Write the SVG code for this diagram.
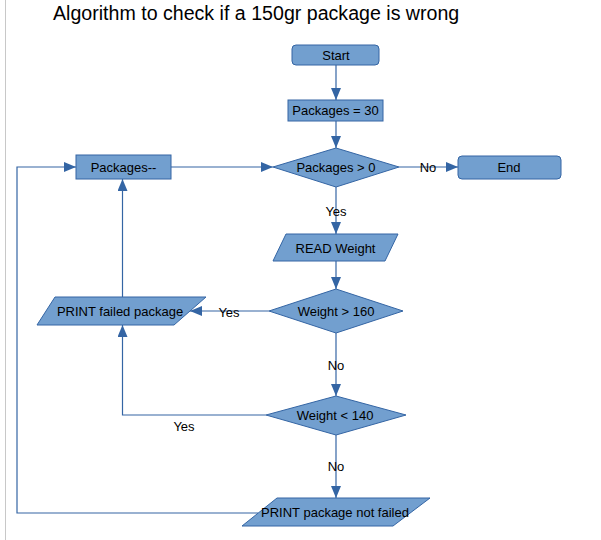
<svg xmlns="http://www.w3.org/2000/svg" width="601" height="540" viewBox="0 0 601 540">
<style>
.n{fill:#729fcf;stroke:#3465a4;stroke-width:1}
.t{font-family:"Liberation Sans",Arial,sans-serif;font-size:13px;fill:#000;text-anchor:middle}
.c{fill:none;stroke:#3465a4;stroke-width:1.2}
</style>
<defs>
<marker id="a" markerUnits="userSpaceOnUse" markerWidth="13" markerHeight="10" refX="12" refY="5" orient="auto">
<path d="M0,0 L12,5 L0,10 z" fill="#3465a4"/>
</marker>
</defs>
<rect width="601" height="540" fill="#fff"/>
<line x1="5.5" y1="0" x2="5.5" y2="540" stroke="#c8c8c8" stroke-width="1"/>
<text x="53" y="20" font-family="Liberation Sans,Arial,sans-serif" font-size="19.6" fill="#000">Algorithm to check if a 150gr package is wrong</text>
<g id="connectors">
<line class="c" x1="336" y1="65" x2="336" y2="100" marker-end="url(#a)"/>
<line class="c" x1="336" y1="121" x2="336" y2="148" marker-end="url(#a)"/>
<line class="c" x1="171" y1="167" x2="273" y2="167" marker-end="url(#a)"/>
<line class="c" x1="399" y1="167" x2="458" y2="167" marker-end="url(#a)"/>
<line class="c" x1="336" y1="187" x2="336" y2="234" marker-end="url(#a)"/>
<line class="c" x1="336" y1="261" x2="336" y2="289" marker-end="url(#a)"/>
<line class="c" x1="269" y1="311" x2="190" y2="311" marker-end="url(#a)"/>
<line class="c" x1="122.5" y1="297" x2="122.5" y2="179" marker-end="url(#a)"/>
<line class="c" x1="336" y1="333" x2="336" y2="396" marker-end="url(#a)"/>
<path class="c" d="M266,415 H122.5 V325" marker-end="url(#a)"/>
<line class="c" x1="336" y1="435" x2="336" y2="498" marker-end="url(#a)"/>
<path class="c" d="M258,513 H17 V167 H76" marker-end="url(#a)"/>
<text class="t" x="428" y="172">No</text>
<text class="t" x="336" y="216">Yes</text>
<text class="t" x="229" y="317">Yes</text>
<text class="t" x="336" y="370">No</text>
<text class="t" x="184" y="431">Yes</text>
<text class="t" x="336" y="471">No</text>
</g>
<g id="start"><rect class="n" x="292" y="45" width="87" height="20" rx="4"/><text class="t" x="336" y="60">Start</text></g>
<g id="init"><rect class="n" x="288" y="100" width="95" height="21"/><text class="t" x="335.5" y="115">Packages = 30</text></g>
<g id="cond"><polygon class="n" points="273,167 336,148 399,167 336,187"/><text class="t" x="336" y="172">Packages &gt; 0</text></g>
<g id="end"><rect class="n" x="458" y="156" width="103" height="23" rx="4"/><text class="t" x="509" y="172">End</text></g>
<g id="dec"><rect class="n" x="76" y="155" width="95" height="24"/><text class="t" x="123.5" y="172">Packages--</text></g>
<g id="read"><polygon class="n" points="286,234 398,234 385,261 273,261"/><text class="t" x="335.5" y="252.5">READ Weight</text></g>
<g id="w160"><polygon class="n" points="269,311 336,289 403,311 336,333"/><text class="t" x="336" y="316">Weight &gt; 160</text></g>
<g id="failed"><polygon class="n" points="55,297 206,297 174,325 37,325"/><text class="t" x="120" y="316">PRINT failed package</text></g>
<g id="w140"><polygon class="n" points="266,415 336,396 406,415 336,435"/><text class="t" x="335" y="420">Weight &lt; 140</text></g>
<g id="notfailed"><polygon class="n" points="277,498 430,498 393,526 242,526"/><text class="t" x="335" y="517">PRINT package not failed</text></g>
</svg>
